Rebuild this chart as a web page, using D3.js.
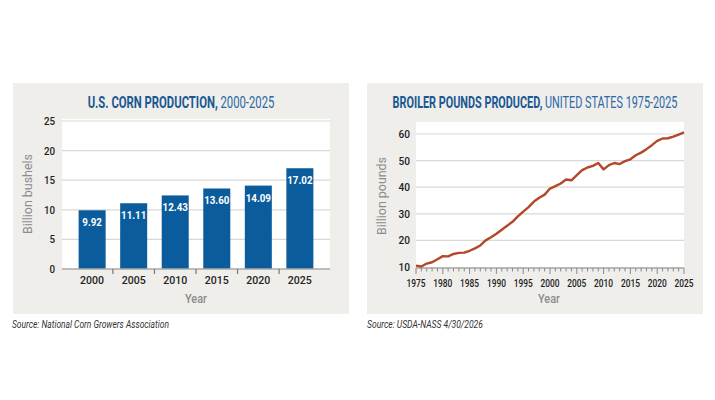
<!DOCTYPE html>
<html>
<head>
<meta charset="utf-8">
<script src="https://cdn.jsdelivr.net/npm/d3@7"></script>
<style>
  body { margin: 0; background: #fff; }
  svg text { font-family: Roboto, "Open Sans", sans-serif; }
</style>
</head>
<body>
<div id="chart"></div>
<script>
// corn production, billion bushels
const cornYears = ["2000", "2005", "2010", "2015", "2020", "2025"];
const cornValues = [9.92, 11.11, 12.43, 13.6, 14.09, 17.02];
const cornLabels = ["9.92", "11.11", "12.43", "13.60", "14.09", "17.02"];
const cornTicks = [0, 5, 10, 15, 20, 25];

// broiler pounds produced, billion pounds
const broilerYears = [
  1975, 1976, 1977, 1978, 1979, 1980, 1981, 1982, 1983, 1984, 1985, 1986,
  1987, 1988, 1989, 1990, 1991, 1992, 1993, 1994, 1995, 1996, 1997, 1998,
  1999, 2000, 2001, 2002, 2003, 2004, 2005, 2006, 2007, 2008, 2009, 2010,
  2011, 2012, 2013, 2014, 2015, 2016, 2017, 2018, 2019, 2020, 2021, 2022,
  2023, 2024, 2025,
];
const broilerValues = [
  10.5, 10.2, 11.3, 11.8, 12.9, 14.1, 14.0, 14.9, 15.3, 15.4, 16.1, 17.0,
  18.1, 20.0, 21.2, 22.5, 24.0, 25.5, 27.0, 29.0, 30.8, 32.5, 34.6, 36.0,
  37.2, 39.5, 40.4, 41.4, 42.9, 42.6, 44.5, 46.4, 47.4, 48.0, 49.1, 46.7,
  48.3, 49.1, 48.7, 49.8, 50.5, 52.0, 53.0, 54.3, 55.8, 57.4, 58.3, 58.4,
  59.0, 59.8, 60.6,
];
const broilerTicks = [10, 20, 30, 40, 50, 60];
const broilerXTicks = [1975, 1980, 1985, 1990, 1995, 2000, 2005, 2010, 2015, 2020, 2025];

const svg = d3
  .select("#chart")
  .append("svg")
  .attr("width", 715)
  .attr("height", 400);

const panelBg = "#efeeeb";
const gridColor = "#d8d8d8";
const axisGray = "#a9a9a9";
const tickText = "#222";

// the original uses a condensed face; squeeze a normal one horizontally
function squeeze(sel, sx) {
  sel.each(function () {
    const t = d3.select(this);
    const x = +t.attr("x"), y = +t.attr("y");
    t.attr("x", 0).attr("y", 0).attr("transform", "translate(" + x + "," + y + ") scale(" + sx + ",1)");
  });
}
function fitWidth(sel, w) {
  const len = sel.node().getComputedTextLength();
  squeeze(sel, w / len);
}

function title(cx, y, boldPart, restPart, width) {
  const t = svg
    .append("text")
    .attr("x", cx)
    .attr("y", y)
    .attr("text-anchor", "middle")
    .attr("font-size", 16.5);
  t.append("tspan").attr("font-weight", "bold").attr("fill", "#195892").text(boldPart);
  t.append("tspan").attr("fill", "#2a68a6").text(restPart);
  fitWidth(t, width);
}

// ---------- left panel: corn ----------
svg.append("rect").attr("x", 13).attr("y", 83).attr("width", 336).attr("height", 231).attr("fill", panelBg);
title(181, 108, "U.S. CORN PRODUCTION,", " 2000-2025", 187);

const cx0 = 62, cx1 = 330, cyTop = 121, cyBot = 269;
svg.append("rect").attr("x", cx0).attr("y", cyTop - 2).attr("width", cx1 - cx0).attr("height", cyBot - cyTop + 2).attr("fill", "#fff");

const xCorn = d3.scaleBand().domain(cornYears).range([cx0, cx1]).paddingInner(0.35).paddingOuter(0.4);
const yCorn = d3.scaleLinear().domain([0, 25]).range([cyBot, cyTop]);

const gCorn = svg.append("g");
gCorn
  .selectAll("line.grid")
  .data(cornTicks.filter((d) => d > 0))
  .enter()
  .append("line")
  .attr("x1", cx0)
  .attr("x2", cx1)
  .attr("y1", (d) => yCorn(d))
  .attr("y2", (d) => yCorn(d))
  .attr("stroke", gridColor)
  .attr("stroke-width", 1.2);

gCorn
  .selectAll("text.ytick")
  .data(cornTicks)
  .enter()
  .append("text")
  .attr("x", 55)
  .attr("y", (d) => yCorn(d) + 4)
  .attr("text-anchor", "end")
  .attr("font-size", 11.5)
  .attr("font-weight", 500)
  .attr("fill", tickText)
  .text((d) => d)
  .call(squeeze, 0.85);

gCorn
  .selectAll("rect.bar")
  .data(cornValues)
  .enter()
  .append("rect")
  .attr("x", (d, i) => xCorn(cornYears[i]))
  .attr("y", (d) => yCorn(d))
  .attr("width", xCorn.bandwidth())
  .attr("height", (d) => yCorn(0) - yCorn(d))
  .attr("fill", "#0b5c9c");

gCorn
  .selectAll("text.barlabel")
  .data(cornValues)
  .enter()
  .append("text")
  .attr("x", (d, i) => xCorn(cornYears[i]) + xCorn.bandwidth() / 2)
  .attr("y", (d) => yCorn(d) + 16)
  .attr("text-anchor", "middle")
  .attr("font-weight", "bold")
  .attr("font-size", 11.5)
  .attr("fill", "#fff")
  .text((d, i) => cornLabels[i])
  .call(squeeze, 0.85);

// baseline and ticks between bars
gCorn.append("line").attr("x1", cx0).attr("x2", cx1).attr("y1", cyBot).attr("y2", cyBot).attr("stroke", axisGray).attr("stroke-width", 1.5);
gCorn
  .selectAll("line.sep")
  .data(cornYears.slice(0, -1))
  .enter()
  .append("line")
  .attr("x1", (d) => xCorn(d) + xCorn.step() - (xCorn.step() - xCorn.bandwidth()) / 2)
  .attr("x2", (d) => xCorn(d) + xCorn.step() - (xCorn.step() - xCorn.bandwidth()) / 2)
  .attr("y1", cyBot)
  .attr("y2", cyBot + 5)
  .attr("stroke", "#777")
  .attr("stroke-width", 1.2);

gCorn
  .selectAll("text.xtick")
  .data(cornYears)
  .enter()
  .append("text")
  .attr("x", (d) => xCorn(d) + xCorn.bandwidth() / 2)
  .attr("y", 283.5)
  .attr("text-anchor", "middle")
  .attr("font-size", 11.5)
  .attr("font-weight", 500)
  .attr("fill", tickText)
  .text((d) => d)
  .call(squeeze, 0.92);

const cornXLabel = gCorn.append("text").attr("x", 196).attr("y", 303).attr("text-anchor", "middle").attr("font-weight", 500).attr("font-size", 13.5).attr("fill", "#8c8c8c").text("Year");
fitWidth(cornXLabel, 22);
gCorn
  .append("text")
  .attr("transform", "translate(32,194) rotate(-90)")
  .attr("text-anchor", "middle")
  .attr("font-size", 12.5)
  .attr("fill", "#8c8c8c")
  .attr("textLength", 80)
  .attr("lengthAdjust", "spacingAndGlyphs")
  .text("Billion bushels");

const src1 = svg.append("text").attr("x", 12).attr("y", 328).attr("font-style", "italic").attr("font-size", 11).attr("fill", "#333").text("Source: National Corn Growers Association");
fitWidth(src1, 157);

// ---------- right panel: broilers ----------
svg.append("rect").attr("x", 367).attr("y", 83).attr("width", 336).attr("height", 231).attr("fill", panelBg);
title(535, 108, "BROILER POUNDS PRODUCED,", " UNITED STATES 1975-2025", 285);

const bx0 = 416, bx1 = 684;
const xB = d3.scaleLinear().domain([1975, 2025]).range([bx0, bx1]);
const yB = d3.scaleLinear().domain([10, 60]).range([267, 134]);

svg.append("rect").attr("x", bx0).attr("y", yB(64.5)).attr("width", bx1 - bx0).attr("height", yB(10) - yB(64.5)).attr("fill", "#fff");

const gB = svg.append("g");
gB
  .selectAll("line.grid")
  .data(broilerTicks.filter((d) => d > 10))
  .enter()
  .append("line")
  .attr("x1", bx0)
  .attr("x2", bx1)
  .attr("y1", (d) => yB(d))
  .attr("y2", (d) => yB(d))
  .attr("stroke", gridColor)
  .attr("stroke-width", 1.2);

gB
  .selectAll("text.ytick")
  .data(broilerTicks)
  .enter()
  .append("text")
  .attr("x", 410)
  .attr("y", (d) => yB(d) + 4)
  .attr("text-anchor", "end")
  .attr("font-size", 11.5)
  .attr("font-weight", 500)
  .attr("fill", tickText)
  .text((d) => d)
  .call(squeeze, 0.88);

gB.append("line").attr("x1", bx0).attr("x2", bx1).attr("y1", yB(10) + 1).attr("y2", yB(10) + 1).attr("stroke", axisGray).attr("stroke-width", 1.5);

const allYears = d3.range(1975, 2026);
gB
  .selectAll("line.xt")
  .data(allYears)
  .enter()
  .append("line")
  .attr("x1", (d) => xB(d))
  .attr("x2", (d) => xB(d))
  .attr("y1", yB(10) + 1)
  .attr("y2", (d) => yB(10) + (d % 5 === 0 ? 7 : 4.5))
  .attr("stroke", "#8a8a8a")
  .attr("stroke-width", 1);

gB
  .selectAll("text.xtick")
  .data(broilerXTicks)
  .enter()
  .append("text")
  .attr("x", (d) => xB(d))
  .attr("y", 287)
  .attr("text-anchor", "middle")
  .attr("font-weight", 500)
  .attr("font-size", 11)
  .attr("fill", tickText)
  .text((d) => d)
  .call(squeeze, 0.76);

const line = d3
  .line()
  .x((d, i) => xB(broilerYears[i]))
  .y((d) => yB(d));

gB.append("path")
  .datum(broilerValues)
  .attr("d", line)
  .attr("fill", "none")
  .attr("stroke", "#b4462a")
  .attr("stroke-width", 2.4)
  .attr("stroke-linejoin", "round");

const bXLabel = gB.append("text").attr("x", 549).attr("y", 303).attr("text-anchor", "middle").attr("font-weight", 500).attr("font-size", 13.5).attr("fill", "#8c8c8c").text("Year");
fitWidth(bXLabel, 22);
gB
  .append("text")
  .attr("transform", "translate(386,196) rotate(-90)")
  .attr("text-anchor", "middle")
  .attr("font-size", 12.5)
  .attr("fill", "#8c8c8c")
  .attr("textLength", 78)
  .attr("lengthAdjust", "spacingAndGlyphs")
  .text("Billion pounds");

const src2 = svg.append("text").attr("x", 367).attr("y", 328).attr("font-style", "italic").attr("font-size", 11).attr("fill", "#333").text("Source: USDA-NASS 4/30/2026");
fitWidth(src2, 116);
</script>
</body>
</html>
